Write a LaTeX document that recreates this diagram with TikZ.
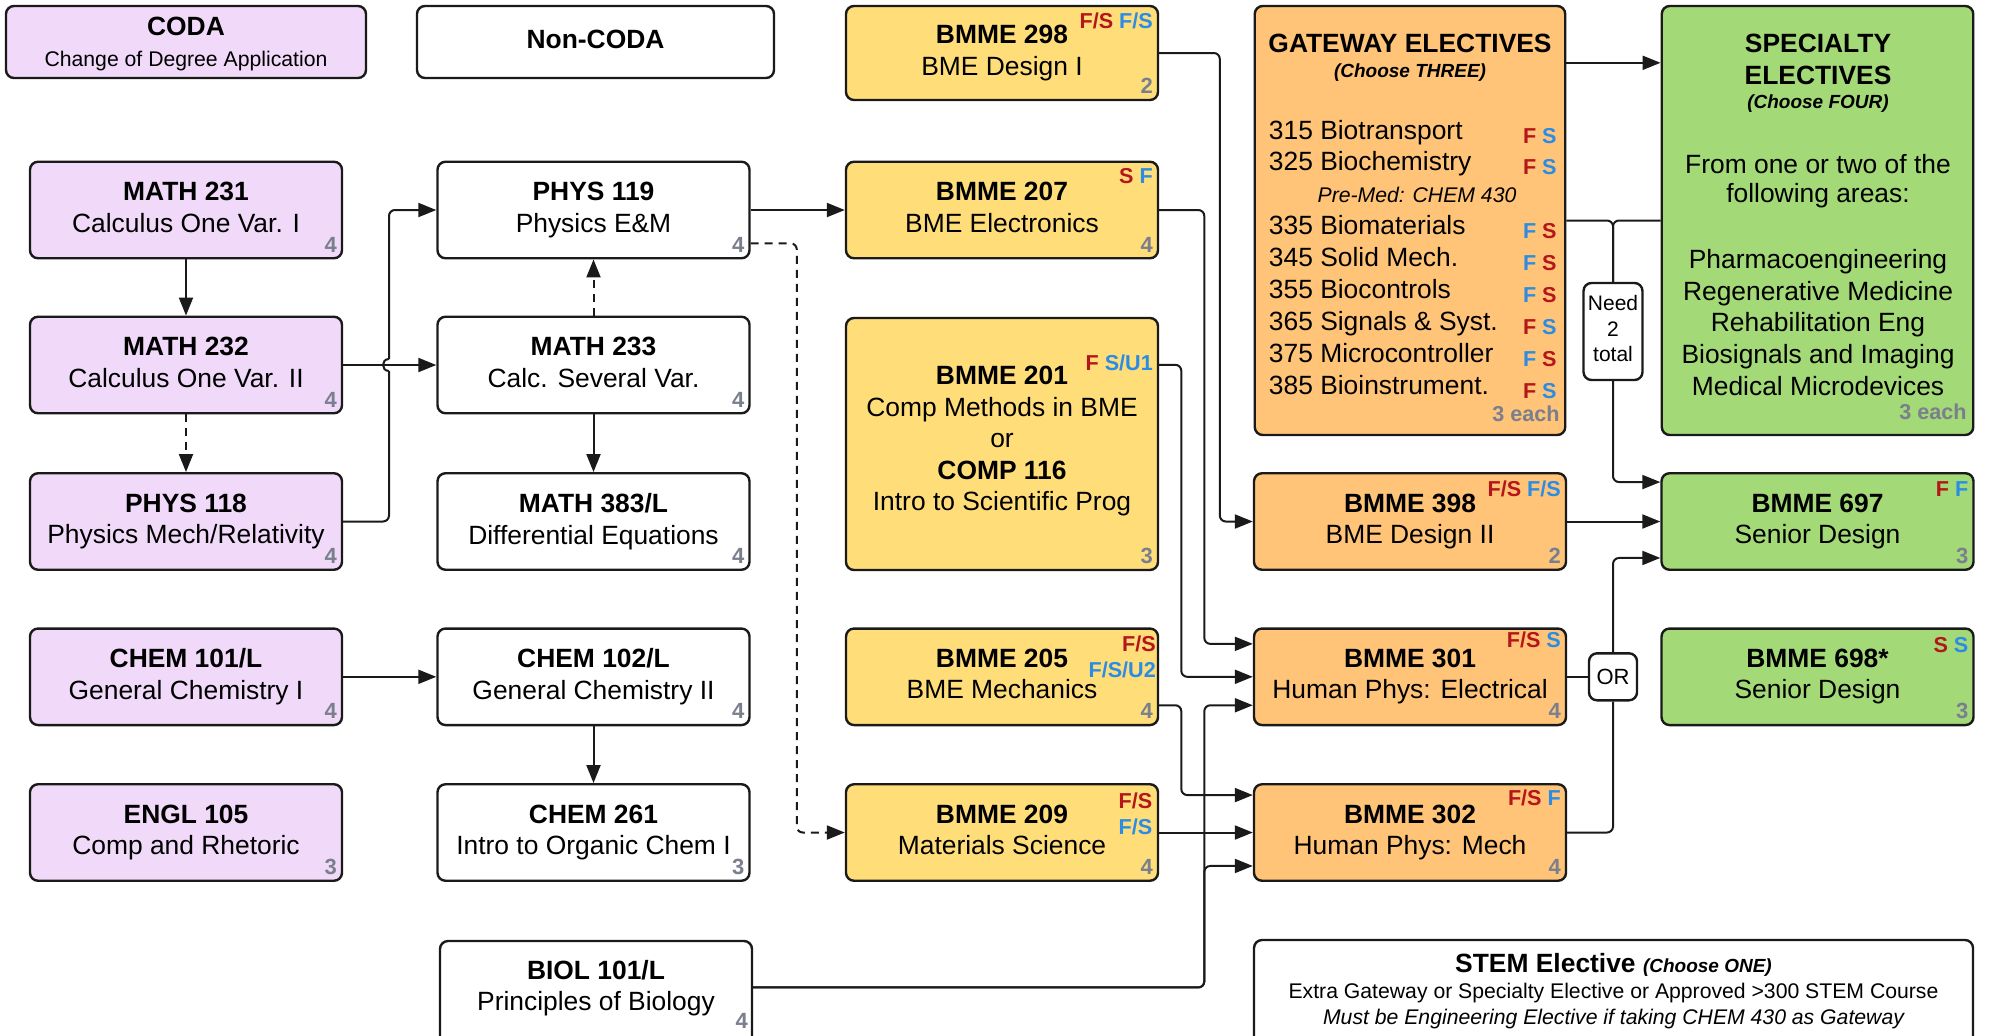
\documentclass[tikz,border=0pt]{standalone}
\usepackage{fontspec}
\setmainfont{Liberation Sans}
\usetikzlibrary{arrows.meta,calc}
\definecolor{purpleF}{HTML}{F1DAF9}
\definecolor{yellowF}{HTML}{FFDE7A}
\definecolor{orangeF}{HTML}{FFC477}
\definecolor{greenF}{HTML}{A3D977}
\definecolor{redT}{HTML}{B5161B}
\definecolor{blueT}{HTML}{2B8CE6}
\definecolor{grayT}{HTML}{7A7F8E}
\definecolor{edgeC}{HTML}{1A1A1A}
\newcommand{\ttl}[2]{\textbf{#1}\\#2}
\newcommand{\rs}[1]{\textcolor{redT}{#1}}
\newcommand{\bs}[1]{\textcolor{blueT}{#1}}
\newcommand{\crd}[3]{\node[cred] (#1) at ($(#2.south east)+(-12.5,-15)$) {#3};}
\newcommand{\semlab}[5]{\node[semt] (#1) at ($(#2.north east)+(#4,#3)$) {#5};}
\newcommand{\gitem}[4]{\node[anchor=base west, inner sep=0pt, font=\fontsize{13.2}{15}\selectfont] (#1) at (1268.5,#2) {#3};
  \node[semt, anchor=base east] (#1s) at (1557,#2+4) {#4};}
\begin{document}
\begin{tikzpicture}[x=0.5pt,y=-0.5pt,
  cbox/.style={draw=edgeC, line width=1.2pt, rounded corners=4pt, minimum width=156pt, minimum height=48.25pt, align=center, inner sep=0pt, text depth=2.8pt, font=\fontsize{13.2}{15.75}\selectfont},
  pbox/.style={cbox, fill=purpleF},
  wbox/.style={cbox, fill=white},
  ybox/.style={cbox, fill=yellowF},
  obox/.style={cbox, fill=orangeF},
  gbox/.style={cbox, fill=greenF},
  cred/.style={font=\bfseries\fontsize{11}{12}\selectfont, text=grayT, inner sep=0pt},
  ceach/.style={font=\bfseries\fontsize{10.8}{12}\selectfont, text=grayT, inner sep=0pt, anchor=east},
  semt/.style={font=\bfseries\fontsize{10.8}{12}\selectfont, inner sep=0pt, anchor=east},
  wire/.style={draw=edgeC, line width=1pt, rounded corners=3pt},
  conn/.style={wire, -{Triangle[length=9pt,width=7pt]}},
  dsh/.style={dash pattern=on 4pt off 3pt},
]
\clip (0,0) rectangle (1995,1035);

% top row
\node[pbox, minimum width=180pt, minimum height=36pt, text depth=0pt] (coda) at (186,42) {\textbf{CODA}\\{\fontsize{10.6}{13}\selectfont Change of Degree Application}};
\node[wbox, minimum width=178.5pt, minimum height=36pt] (noncoda) at (595.5,42) {\textbf{Non-CODA}};

% column 1
\node[pbox] (m231) at (186,210) {\ttl{MATH 231}{Calculus One Var. I}};
\node[pbox] (m232) at (186,365) {\ttl{MATH 232}{Calculus One Var. II}};
\node[pbox] (p118) at (186,521.5) {\ttl{PHYS 118}{Physics Mech/Relativity}};
\node[pbox] (c101) at (186,676.8) {\ttl{CHEM 101/L}{General Chemistry I}};
\node[pbox] (e105) at (186,832.5) {\ttl{ENGL 105}{Comp and Rhetoric}};

% column 2
\node[wbox] (p119) at (593.5,210) {\ttl{PHYS 119}{Physics E\&M}};
\node[wbox] (m233) at (593.5,365) {\ttl{MATH 233}{Calc. Several Var.}};
\node[wbox] (m383) at (593.5,521.5) {\ttl{MATH 383/L}{Differential Equations}};
\node[wbox] (c102) at (593.5,676.8) {\ttl{CHEM 102/L}{General Chemistry II}};
\node[wbox] (c261) at (593.5,832.5) {\ttl{CHEM 261}{Intro to Organic Chem I}};
\node[wbox, minimum height=52pt] (biol) at (596,993) {};
\node[align=center, inner sep=0pt, font=\fontsize{13.2}{15.75}\selectfont] (biolt) at (596,988) {\ttl{BIOL 101/L}{Principles of Biology}};

% column 3
\node[ybox, minimum height=47pt] (b298) at (1002,53) {\ttl{BMME 298}{BME Design I}};
\node[ybox] (b207) at (1002,210) {\ttl{BMME 207}{BME Electronics}};
\node[ybox, minimum height=126pt, text depth=5.3pt] (b201) at (1002,444) {\textbf{BMME 201}\\Comp Methods in BME\\or\\\textbf{COMP 116}\\Intro to Scientific Prog};
\node[ybox] (b205) at (1002,676.8) {\ttl{BMME 205}{BME Mechanics}};
\node[ybox] (b209) at (1002,832.5) {\ttl{BMME 209}{Materials Science}};

% column 4
\node[obox, minimum width=155.25pt, minimum height=214.5pt] (gate) at (1410,220.5) {};
\node[obox] (b398) at (1410,521.5) {\ttl{BMME 398}{BME Design II}};
\node[obox] (b301) at (1410,676.8) {\ttl{BMME 301}{Human Phys: Electrical}};
\node[obox] (b302) at (1410,832.5) {\ttl{BMME 302}{Human Phys: Mech}};

% column 5
\node[gbox, minimum width=155.75pt, minimum height=214.5pt] (spec) at (1817.5,220.5) {};
\node[gbox] (b697) at (1817.5,521.5) {\ttl{BMME 697}{Senior Design}};
\node[gbox] (b698) at (1817.5,676.8) {\ttl{BMME 698*}{Senior Design}};

% STEM
\node[wbox, minimum width=359.5pt, minimum height=52.5pt] (stem) at (1613.5,992.5) {};
\node[inner sep=0pt, font=\fontsize{13.2}{15}\selectfont] (stemt) at (1613.5,964.5) {\textbf{STEM Elective} {\bfseries\itshape\fontsize{9.5}{11}\selectfont (Choose ONE)}};
\node[inner sep=0pt, font=\fontsize{10.6}{12}\selectfont] (stem1) at (1613.5,992.5) {Extra Gateway or Specialty Elective or Approved >300 STEM Course};
\node[inner sep=0pt, font=\itshape\fontsize{10.6}{12}\selectfont] (stem2) at (1613.5,1019) {Must be Engineering Elective if taking CHEM 430 as Gateway};

% gateway contents
\node[inner sep=0pt, font=\bfseries\fontsize{13.2}{16}\selectfont] (gtitle) at (1410,43) {GATEWAY ELECTIVES};
\node[inner sep=0pt, font=\bfseries\itshape\fontsize{9.5}{11}\selectfont] (gchoose) at (1410,72.5) {(Choose THREE)};
\gitem{g1}{139}{315 Biotransport}{\rs{F} \bs{S}}
\gitem{g2}{170.9}{325 Biochemistry}{\rs{F} \bs{S}}
\node[anchor=base, inner sep=0pt, font=\itshape\fontsize{10.6}{12}\selectfont] (premed) at (1417,202.8) {Pre-Med: CHEM 430};
\gitem{g3}{234.7}{335 Biomaterials}{\bs{F} \rs{S}}
\gitem{g4}{266.6}{345 Solid Mech.}{\bs{F} \rs{S}}
\gitem{g5}{298.5}{355 Biocontrols}{\bs{F} \rs{S}}
\gitem{g6}{330.4}{365 Signals \& Syst.}{\rs{F} \bs{S}}
\gitem{g7}{362.3}{375 Microcontroller}{\bs{F} \rs{S}}
\gitem{g8}{394.2}{385 Bioinstrument.}{\rs{F} \bs{S}}
\node[ceach] (geach) at (1560,413.5) {3 each};

% specialty contents
\node[align=center, inner sep=0pt, font=\bfseries\fontsize{13.2}{16}\selectfont] (stitle) at (1818,59) {SPECIALTY\\ELECTIVES};
\node[inner sep=0pt, font=\bfseries\itshape\fontsize{9.5}{11}\selectfont] (schoose) at (1818,104) {(Choose FOUR)};
\node[align=center, inner sep=0pt, font=\fontsize{13.2}{14.5}\selectfont] (sfrom) at (1818,181.5) {From one or two of the\\following areas:};
\node[align=center, inner sep=0pt, font=\fontsize{13.2}{15.95}\selectfont] (sareas) at (1818,322.5) {Pharmacoengineering\\Regenerative Medicine\\Rehabilitation Eng\\Biosignals and Imaging\\Medical Microdevices};
\node[ceach] (seach) at (1967,412) {3 each};

% small boxes
\node[wbox, minimum width=29.5pt, minimum height=48.5pt, font=\fontsize{10.5}{12.75}\selectfont] (need) at (1613,331.5) {Need\\2\\total};
\node[wbox, minimum width=24pt, minimum height=23.5pt, text depth=0pt, font=\fontsize{11}{13}\selectfont] (ornode) at (1613,676.8) {OR};

% credits
\crd{k1}{m231}{4}
\crd{k2}{m232}{4}
\crd{k3}{p118}{4}
\crd{k4}{c101}{4}
\crd{k5}{e105}{3}
\crd{k6}{p119}{4}
\crd{k7}{m233}{4}
\crd{k8}{m383}{4}
\crd{k9}{c102}{4}
\crd{k10}{c261}{3}
\node[cred] (k11) at ($(biol.north east)+(-11.5,80.7)$) {4};
\crd{k12}{b298}{2}
\crd{k13}{b207}{4}
\crd{k14}{b201}{3}
\crd{k15}{b205}{4}
\crd{k16}{b209}{4}
\crd{k17}{b398}{2}
\crd{k18}{b301}{4}
\crd{k19}{b302}{4}
\crd{k20}{b697}{3}
\crd{k21}{b698}{3}

% semester labels
\semlab{s1}{b298}{15.6}{-6}{\rs{F/S} \bs{F/S}}
\semlab{s2}{b207}{15.4}{-6}{\rs{S} \bs{F}}
\semlab{s3}{b201}{46}{-6}{\rs{F} \bs{S/U1}}
\semlab{s4}{b205}{16.5}{-3}{\rs{F/S}}
\semlab{s5}{b205}{42.5}{-3}{\bs{F/S/U2}}
\semlab{s6}{b209}{18.3}{-6.5}{\rs{F/S}}
\semlab{s7}{b209}{44}{-6.5}{\bs{F/S}}
\semlab{s8}{b398}{17}{-6}{\rs{F/S} \bs{F/S}}
\semlab{s9}{b301}{13}{-6}{\rs{F/S} \bs{S}}
\semlab{s10}{b302}{15}{-6}{\rs{F/S} \bs{F}}
\semlab{s11}{b697}{17}{-6}{\rs{F} \bs{F}}
\semlab{s12}{b698}{18}{-6}{\rs{S} \bs{S}}

% helper coordinates
\coordinate (hopA) at (389,371);
\coordinate (hopB) at (389,359);
\coordinate (hopAc) at (381,371);
\coordinate (hopBc) at (381,359);
\coordinate (dA) at ($(p119.south east)+(0,-16)$);
\coordinate (b301a) at ($(b301.north west)+(0,16.5)$);
\coordinate (b301c) at ($(b301.south west)+(0,-21)$);
\coordinate (b201a) at ($(b201.north east)+(0,48)$);
\coordinate (biolA) at ($(biol.north east)+(0,47.6)$);
\coordinate (b302a) at ($(b302.north west)+(0,12)$);
\coordinate (b302c) at ($(b302.south west)+(0,-16)$);
\coordinate (b205a) at ($(b205.south east)+(0,-21)$);
\coordinate (gA) at ($(gate.north east)+(0,58)$);
\coordinate (sA) at ($(spec.north west)+(0,58)$);
\coordinate (b697a) at ($(b697.north west)+(0,10)$);
\coordinate (b697b) at ($(b697.south west)+(0,-13)$);

% connectors: first years
\draw[conn] (m231.south) -- (m232.north);
\draw[conn, dsh] (m232.south) -- (p118.north);
\draw[conn] (m232.east) -- (m233.west);
\draw[wire] (p118.east) -| (hopA);
\draw[wire] (hopA) .. controls (hopAc) and (hopBc) .. (hopB);
\draw[conn] (hopB) |- (p119.west);
\draw[conn, dsh] (m233.north) -- (p119.south);
\draw[conn] (m233.south) -- (m383.north);
\draw[conn] (c101.east) -- (c102.west);
\draw[conn] (c102.south) -- (c261.north);
\draw[conn] (p119.east) -- (b207.west);
\draw[conn, dsh] (dA) -| ($(b209.west)+(-48,0)$) -- (b209.west);

% BME connectors
\draw[conn] (b298.east) -| ($(b398.west)+(-33,0)$) -- (b398.west);
\draw[conn] (b207.east) -| ($(b301a)+(-48.5,0)$) -- (b301a);
\draw[conn] (b201a) -| ($(b301.west)+(-71.5,0)$) -- (b301.west);
\draw[conn] (biolA) -| ($(b301c)+(-48.5,0)$) -- (b301c);
\draw[conn] (biolA) -| ($(b302c)+(-48.5,0)$) -- (b302c);
\draw[conn] (b205a) -| ($(b302a)+(-71.5,0)$) -- (b302a);
\draw[conn] (b209.east) -- (b302.west);
\draw[conn] (b398.east) -- (b697.west);
\draw[conn] (gA) -- (sA);
\draw[wire] (gate.east) -| (need.north);
\draw[wire] (spec.west) -| (need.north);
\draw[conn] (need.south) |- (b697a);
\draw[wire] (b301.east) -- (ornode.west);
\draw[wire] (b302.east) -| (ornode.south);
\draw[conn] (ornode.north) |- (b697b);
\end{tikzpicture}
\end{document}
